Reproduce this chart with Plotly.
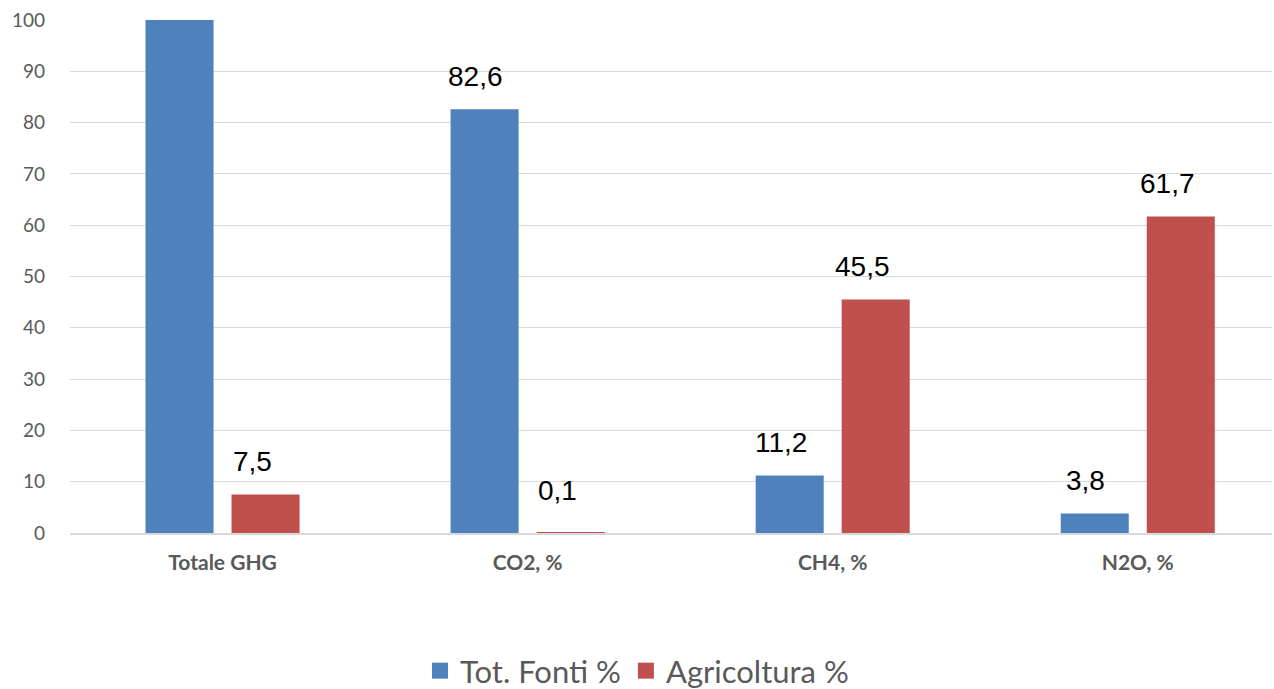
import plotly.graph_objects as go

categories = ["Totale GHG", "CO2, %", "CH4, %", "N2O, %"]
tot_fonti = [100, 82.6, 11.2, 3.8]
agricoltura = [7.5, 0.1, 45.5, 61.7]
series_names = ["Tot. Fonti %", "Agricoltura %"]
y_ticks = [0, 10, 20, 30, 40, 50, 60, 70, 80, 90, 100]

BLUE = "#4F81BD"
RED = "#C0504D"
GRAY = "#595959"

fig = go.Figure()
fig.add_trace(go.Bar(x=categories, y=tot_fonti, name=series_names[0], showlegend=False,
                     marker=dict(color=BLUE, line=dict(width=0))))
fig.add_trace(go.Bar(x=categories, y=agricoltura, name=series_names[1], showlegend=False,
                     marker=dict(color=RED, line=dict(width=0))))
# legend entries with larger square swatches
for nm, col in zip(series_names, (BLUE, RED)):
    fig.add_trace(go.Scatter(x=[None], y=[None], mode="markers", name=nm,
                             marker=dict(symbol="square", size=16, color=col),
                             hoverinfo="skip"))

def fmt(v):
    if v == 100:
        return None
    return f"{v:.1f}".replace(".", ",")

annotations = []
for vals, xs in ((tot_fonti, -43 - 9), (agricoltura, 43 - 13)):
    for c, v in zip(categories, vals):
        t = fmt(v)
        if t is None:
            continue
        annotations.append(dict(x=c, y=v, xref="x", yref="y", text=t,
                                showarrow=False, xshift=xs, yshift=33 if v > 1 else 42,
                                yanchor="middle", xanchor="center",
                                font=dict(family="Liberation Sans, Arial", size=28, color="#000000")))

fig.update_layout(
    width=1274, height=689,
    margin=dict(l=70, r=2, t=20, b=156),
    paper_bgcolor="white", plot_bgcolor="white",
    barmode="group", bargap=0.436, bargroupgap=0.209,
    font=dict(family="Lato, Open Sans, sans-serif", color=GRAY),
    annotations=annotations,
    legend=dict(orientation="h", xref="container", x=0.5, xanchor="center",
                yref="container", y=1 - 671 / 689, yanchor="middle",
                font=dict(size=31, color=GRAY), itemsizing="trace",
                traceorder="normal", itemwidth=30, tracegroupgap=0),
    showlegend=True,
)
fig.update_xaxes(range=[-0.5, 3.44], showgrid=False, showline=True, linecolor="#d9d9d9",
                 linewidth=1.5, ticks="", automargin=False,
                 tickfont=dict(size=21, color=GRAY,
                 family="Lato, Open Sans, sans-serif", weight="bold"),
                 ticklabelstandoff=10)
fig.update_yaxes(range=[0, 100], tickvals=y_ticks, showgrid=True, gridcolor="#d9d9d9",
                 gridwidth=1.3, zeroline=False, showline=False, ticks="", automargin=False,
                 tickfont=dict(size=19, color=GRAY), ticklabelstandoff=24)

fig.write_html("out.html", config={"displayModeBar": False},
               post_script="document.body.style.margin='0';")
